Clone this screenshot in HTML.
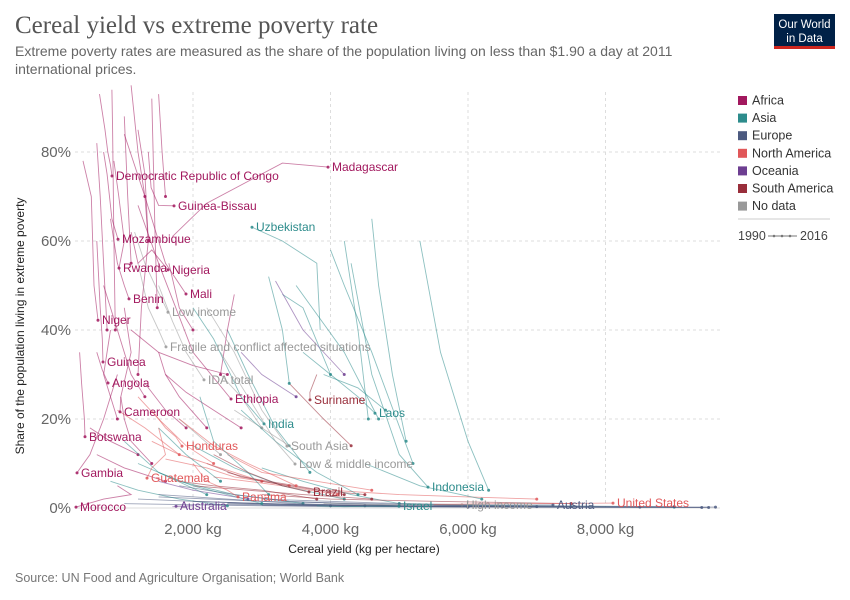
<!DOCTYPE html>
<html><head><meta charset="utf-8">
<style>
body{margin:0;background:#fff;font-family:"Liberation Sans",sans-serif;}
#wrap{position:relative;width:850px;height:600px;overflow:hidden;}
</style></head>
<body>
<div id="wrap">
<svg id="chart" width="850" height="600">
  <text x="15" y="33" font-family="Liberation Serif,serif" font-size="25" fill="#555">Cereal yield vs extreme poverty rate</text>
  <text x="15" y="56" font-size="14" fill="#666">Extreme poverty rates are measured as the share of the population living on less than $1.90 a day at 2011</text>
  <text x="15" y="74" font-size="14" fill="#666">international prices.</text>
  <g>
    <rect x="774" y="14" width="61" height="35" fill="#002147"/>
    <rect x="774" y="46" width="61" height="3" fill="#ce261e"/>
    <text x="804.5" y="28" font-size="11.5" fill="#fff" text-anchor="middle">Our World</text>
    <text x="804.5" y="42" font-size="11.5" fill="#fff" text-anchor="middle">in Data</text>
  </g>
  <text x="15" y="582" font-size="12.5" fill="#777">Source: UN Food and Agriculture Organisation; World Bank</text>
  <text transform="translate(24,326) rotate(-90)" font-size="12" fill="#222" text-anchor="middle">Share of the population living in extreme poverty</text>
  <text x="364" y="553" font-size="12" fill="#222" text-anchor="middle">Cereal yield (kg per hectare)</text>
  <g id="grid"></g>
  <g id="series"></g>
  <g id="labels"></g>
  <g id="legend"></g>
</svg>
</div>
<script>
const xTicks=[2000,4000,6000,8000];
const xTickLabels=["2,000 kg","4,000 kg","6,000 kg","8,000 kg"];
const yTicks=[0,20,40,60,80];
const yTickLabels=["0%","20%","40%","60%","80%"];
const regions=["Africa","Asia","Europe","North America","Oceania","South America","No data"];
const regionColors=["#a2185e","#2d8c8c","#4c5a80","#e15759","#6d3e91","#992e3b","#999999"];
const seriesNames=["Madagascar","Democratic Republic of Congo","Guinea-Bissau","Mozambique","Rwanda","Nigeria","Mali","Benin","Niger","Guinea","Angola","Cameroon","Ethiopia","Botswana","Gambia","Morocco","Uzbekistan","Laos","India","Indonesia","Israel","Suriname","Brazil","Honduras","Guatemala","Panama","United States","Australia","Austria","Low income","Fragile and conflict affected situations","IDA total","South Asia","Low & middle income","High income"];
const seriesRegion=[0,0,0,0,0,0,0,0,0,0,0,0,0,0,0,0,1,1,1,1,1,5,5,3,3,3,3,4,2,6,6,6,6,6,6,
0,0,0,0,0,0,0,0,0,0,0,0,1,1,1,1,1,1,1,1,1,1,1,1,4,4,2,2,2,2,2,2,2,2,3,3,3,3,5,5,5,5,6,
1,1,1,1,1,1,1,1,2,2,2,2,3,3,3,3,5,5,0,0,0,0,0,0,0,6,6,4];
const seriesX=[
[1700,2200,3300,3964],[640,720,760,800,822],[1350,1390,1500,1724],[700,750,820,909],[850,920,1000,924],[1100,1200,1400,1636],[1000,1300,1600,1898],[800,900,1000,1069],[400,520,560,618],[600,650,680,691],[600,680,764],[1000,1100,950,938],[1200,1500,2000,2553],[350,380,420,429],[900,700,500,313],[900,1100,700,298],
[3850,3800,3300,2858],[3600,4000,4400,4647],[2000,2300,2700,3033],[4300,4600,5000,5418],[3800,4200,4600,4996],[3800,3700,3702],[2300,2800,3300,3687],[1400,1600,1750,1840],[1500,1600,1400,1331],[2000,2200,2500,2655],[5500,6500,7200,8109],[1700,1900,2000,1753],[5500,6000,6500,7236],
[1150,1300,1450,1636],[1200,1350,1500,1607],[1500,1700,1900,2160],[2200,2600,3000,3367],[2400,2800,3200,3484],[3900,4500,5200,5912],
[820,830,850,870],[1400,1420,1450,1480],[1000,1050,1100],[1200,1300,1350],[600,650,700,750],[1300,1350,1250,1200],[1650,1800,2000],[2600,2500,2400],[1100,1500,2000,2500],[700,900,1100,1300],[950,1000,1100,1400],[600,1000,1600],
[2100,2300,2800,3100],[4600,4700,4900,5100],[4200,4400,4550],[4000,4200,4600,5200],[3100,3300,3400],[2500,2800,3200,3700],[5300,5600,6000,6300],[1500,2000,2500,3000],[2700,3200,3800,4400],[1000,1500,2200],[4500,5300,6200],[3900,4400,4800],
[2700,3000,3500],[3200,3600,4200],
[2500,4000,6000,9600],[3000,5000,7000,9000],[1500,2500,3500,4500],[4000,5500,7500,9400],[2000,3000,4500,6500],[1800,2600,3400,5000],[2200,3500,5500,8500],[1200,2000,3000,4000],
[1800,2300,2800,3500],[2500,3000,3800,4600],[1200,1500,1900,2300],[4000,5000,6000,7000],
[2500,3000,3800,4500],[2000,2800,3600,4600],[3000,4000,5500,7500],[3400,3900,4300],
[2400,2700,3000],
[1200,1800,2600,3600],[2000,2600,3300,4200],[1500,1900,2400],[3000,3600,4300,5000],[800,1200,1800,2500],[5000,6000,7500,9000],[3500,4200,4700],[3300,3600,4000],
[1000,2500,4000,6000],[3000,4500,6500,9500],[1500,3000,5000,7000],[2500,3500,5000,7500],
[1400,1800,2400,3000],[1600,2200,2600,3400],[2300,2800,3300,4100],[900,1300,1800],
[2200,2700,3500,4200],[1800,2300,3000,3800],
[1500,1600,1800,2200],[1300,1600,1900],[500,800,1200],[1100,1200,1300],[1500,1550,1600],[800,700,900],[1600,1900,2300,2700],
[1800,2100,2400],[2600,3000,3400],[1500,2000,2800]];
const seriesY=[
[61,68.5,77.5,76.6],[93,85,80,77,74.6],[80,72,68,67.9],[80,75,65,60.4],[78,70,60,53.9],[62,55,58,53.5],[84,70,55,48.1],[65,55,50,47],[78,70,50,42.2],[60,45,38,32.8],[35,31,28.1],[45,35,25,21.6],[68,55,35,24.5],[35,28,20,16],[30,20,12,7.9],[5,3,2,0.2],
[40,55,60,63.1],[35,30,25,21.3],[45,38,25,18.9],[55,30,12,4.7],[0.5,0.3,0.4,0.4],[30,26,24.3],[12,8,5,3.6],[22,18,16,13.9],[18,12,9,6.7],[10,6,4,2.5],[0.8,1,1,1.1],[0.3,0.4,0.5,0.4],[0.5,0.6,0.7,0.7],
[62,55,50,44],[55,45,40,36.2],[50,42,35,28.8],[45,35,22,13.9],[35,25,15,9.9],[1,0.8,0.7,0.7],
[94,85,60,40],[92,80,60,45],[88,70,55],[85,75,60],[82,70,55,40],[70,60,45,30],[55,45,40],[48,40,30],[40,35,32,30],[50,40,30,25],[25,20,15,10],[12,9,6],
[25,15,8,3],[65,50,30,15],[60,40,20],[58,50,35,10],[52,40,28],[40,30,18,8],[60,35,15,4],[8,5,3,1],[22,15,8,3],[15,8,3],[10,5,2],[30,27,22],
[35,30,25],[51,40,30],
[1,0.5,0.3,0.2],[2,1,0.5,0.3],[3,2,1,0.5],[0.5,0.3,0.2,0.1],[1.5,1,0.6,0.3],[5,3,1.5,0.5],[0.8,0.6,0.4,0.2],[2,1.5,1,0.5],
[20,14,10,5],[12,8,6,4],[25,20,14,10],[4,3,2.5,2],
[8,6,4,3],[5,4,3,2],[3,2,1.5,1],[28,20,14],
[30,25,18],
[10,6,3,1],[14,9,5,2],[18,12,6],[9,6,3,1],[6,4,2,0.5],[1,0.6,0.4,0.2],[50,35,20],[48,45,30],
[1,0.6,0.3,0.2],[0.6,0.4,0.2,0.1],[2.5,1.5,0.8,0.3],[1.2,0.8,0.5,0.3],
[15,12,9,6],[11,9,7,5],[7,6,5,3],[22,18,12],
[10,7,5,3],[6,5,4,2],
[35,30,25,18],[28,22,18],[18,15,12],[95,80,70],[93,80,70],[40,30,20],[30,26,22,18],
[20,16,12],[22,18,14],[6,4,2]];

const NS="http://www.w3.org/2000/svg";
const X0=55.5,XS=0.06875,Y0=508,YS=4.45,PL=75,PR=720,PT=92;
function sx(v){return X0+v*XS;}
function sy(v){return Y0-v*YS;}
function mk(t,a,p){const e=document.createElementNS(NS,t);for(const k in a)e.setAttribute(k,a[k]);p.appendChild(e);return e;}
const grid=document.getElementById('grid');
yTicks.forEach((t,i)=>{
  const l=mk('line',{x1:PL,x2:PR,y1:sy(t),y2:sy(t),stroke:'#ddd','stroke-dasharray':t===0?'none':'3,3'},grid);
  
  
  const tx=mk('text',{x:71,y:sy(t)+5,'text-anchor':'end','font-size':15,fill:'#666'},grid);
  tx.textContent=yTickLabels[i];
  
  
});
xTicks.forEach((t,i)=>{
  const l=mk('line',{x1:sx(t),x2:sx(t),y1:PT,y2:Y0,stroke:'#ddd','stroke-dasharray':'3,3'},grid);
  
  
  const tx=mk('text',{x:sx(t),y:534,'text-anchor':'middle','font-size':15,fill:'#666'},grid);
  tx.textContent=xTickLabels[i];
  
  
});
const sg=document.getElementById('series'),lg=document.getElementById('labels');
for(let i=seriesX.length-1;i>=0;i--){
  const c=regionColors[seriesRegion[i]];
  const pts=seriesX[i].map((x,j)=>sx(x).toFixed(1)+','+sy(seriesY[i][j]).toFixed(1)).join(' ');
  const pl=mk('polyline',{points:pts,fill:'none',stroke:c,'stroke-width':0.9,'stroke-opacity':0.55},sg);
  
  
  const n=seriesX[i].length-1;
  const d=mk('circle',{cx:sx(seriesX[i][n]),cy:sy(seriesY[i][n]),r:1.5,fill:c,'fill-opacity':0.85},sg);
  
  
  if(seriesNames[i]){
    const t=mk('text',{x:sx(seriesX[i][n])+4,y:sy(seriesY[i][n])+4,'font-size':12,fill:c},lg);
    t.textContent=seriesNames[i];
    
    
  }
}
const leg=document.getElementById('legend');
regions.forEach((r,i)=>{
  const y=100+i*17.6;
  const s=mk('rect',{x:738,y:y-4,width:9,height:9,fill:regionColors[i]},leg);
  
  
  const t=mk('text',{x:752,y:y+4.5,'font-size':12.5,fill:'#333'},leg);
  t.textContent=r;
  
  
});
const hl=mk('line',{x1:738,x2:830,y1:219,y2:219,stroke:'#ccc'},leg);


const tl=mk('text',{x:738,y:240,'font-size':12.5,fill:'#444'},leg);
tl.textContent='1990';


const arr=mk('line',{x1:768,x2:797,y1:236,y2:236,stroke:'#777'},leg);


[774,782,790].forEach(cx=>{const c=mk('circle',{cx:cx,cy:236,r:1.3,fill:'#777'},leg);

});
const te=mk('text',{x:800,y:240,'font-size':12.5,fill:'#444'},leg);
te.textContent='2016';


</script>
</body></html>
